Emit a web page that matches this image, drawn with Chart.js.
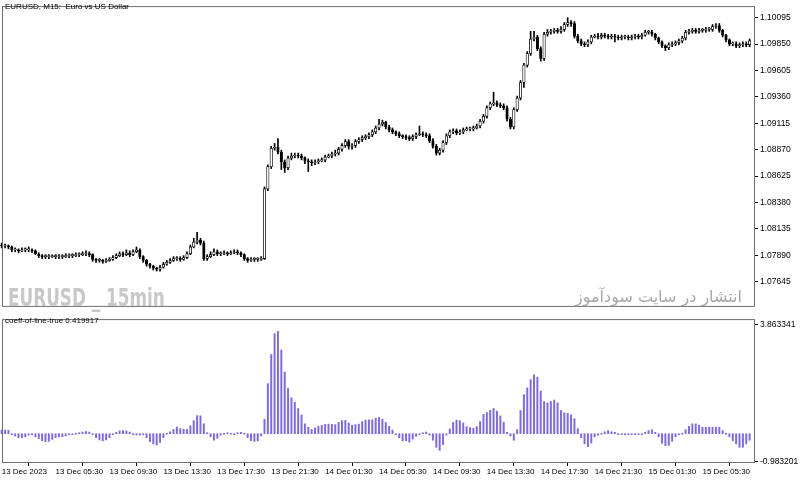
<!DOCTYPE html>
<html>
<head>
<meta charset="utf-8">
<script src="https://cdn.jsdelivr.net/npm/chart.js@4.4.1/dist/chart.umd.min.js"></script>
<style>
  body { margin: 0; background: #fff; }
  #wrap { position: relative; width: 800px; height: 481px; overflow: hidden; font-family: 'Liberation Sans', Arial, sans-serif; }
  canvas { position: absolute; left: 0; }
  .txt { position: absolute; white-space: nowrap; line-height: normal; }
</style>
</head>
<body>
<div id="wrap">
  <canvas id="priceChart" width="800" height="313" style="top:0"></canvas>
  <canvas id="coeffChart" width="800" height="168" style="top:313px"></canvas>
  <div class="txt" style="left:5px;top:2px;font-size:8px">EURUSD, M15:&nbsp; Euro vs US Dollar</div>
  <div class="txt" style="left:8px;top:284px;font:bold 24px 'Liberation Sans Narrow','DejaVu Sans Condensed',sans-serif;color:#c8c8c8;transform:scaleX(0.78);transform-origin:0 0">EURUSD _ 15min</div>
  <div class="txt" dir="rtl" style="right:58px;top:287px;font:16px 'DejaVu Sans',sans-serif;color:#a8a8a8">انتشار در سایت سودآموز</div>
  <div class="txt" style="left:5px;top:316px;font-size:8px">coeff-of-line-true 0.419917</div>
</div>
<script>
// EURUSD M15, 13 Dec 01:30 .. 15 Dec 09:00
const timeLabels = ['13 Dec 2023', '13 Dec 05:30', '13 Dec 09:30', '13 Dec 13:30', '13 Dec 17:30', '13 Dec 21:30',
    '14 Dec 01:30', '14 Dec 05:30', '14 Dec 09:30', '14 Dec 13:30', '14 Dec 17:30', '14 Dec 21:30',
    '15 Dec 01:30', '15 Dec 05:30'];
const barsPerLabel = 16;
const priceTicks = [1.07645, 1.07890, 1.08135, 1.08380, 1.08625, 1.08870, 1.09115, 1.09360, 1.09605, 1.09850, 1.10095];
const coeffTicks = [-0.983201, 3.863341];

const opens = [1.07986,1.07977,1.07977,1.07968,1.07941,1.07941,1.07932,1.07941,1.07941,1.07941,
    1.07932,1.07905,1.07887,1.07878,1.07878,1.07878,1.07878,1.07878,1.07878,1.07878,
    1.07887,1.07887,1.07887,1.07896,1.07896,1.07905,1.07905,1.07896,1.07852,1.07843,
    1.07843,1.07834,1.07843,1.07852,1.07869,1.07887,1.07905,1.07896,1.07914,1.07896,
    1.07923,1.07941,1.07878,1.07843,1.07807,1.07789,1.07771,1.07762,1.07780,1.07807,
    1.07825,1.07843,1.07860,1.07860,1.07852,1.07869,1.07905,1.07968,1.08013,1.08031,
    1.08004,1.07860,1.07878,1.07896,1.07923,1.07905,1.07905,1.07914,1.07905,1.07914,
    1.07923,1.07914,1.07896,1.07860,1.07843,1.07852,1.07852,1.07852,1.07860,1.08507,
    1.08713,1.08884,1.08892,1.08848,1.08758,1.08704,1.08794,1.08812,1.08821,1.08812,
    1.08794,1.08767,1.08758,1.08749,1.08758,1.08767,1.08776,1.08803,1.08812,1.08830,
    1.08839,1.08875,1.08910,1.08946,1.08901,1.08910,1.08946,1.08964,1.08982,1.08991,
    1.09009,1.09036,1.09072,1.09108,1.09126,1.09081,1.09054,1.09036,1.09018,1.09000,
    1.08991,1.08982,1.08973,1.08991,1.09009,1.09018,1.09009,1.09000,1.08955,1.08901,
    1.08839,1.08866,1.08937,1.09000,1.09036,1.09045,1.09027,1.09036,1.09054,1.09063,
    1.09063,1.09072,1.09090,1.09135,1.09180,1.09260,1.09296,1.09305,1.09287,1.09278,
    1.09260,1.09153,1.09081,1.09242,1.09350,1.09494,1.09655,1.09763,1.09898,1.09916,
    1.09808,1.09718,1.09942,1.09960,1.09969,1.09978,1.09969,1.09987,1.10032,1.10050,
    1.10041,1.09924,1.09880,1.09853,1.09844,1.09871,1.09916,1.09924,1.09916,1.09933,
    1.09924,1.09916,1.09924,1.09916,1.09907,1.09916,1.09916,1.09907,1.09916,1.09924,
    1.09916,1.09933,1.09960,1.09960,1.09942,1.09907,1.09871,1.09835,1.09817,1.09844,
    1.09853,1.09862,1.09880,1.09907,1.09960,1.09969,1.09978,1.09969,1.09978,1.09978,
    1.09987,1.09987,1.10014,1.10023,1.09978,1.09933,1.09889,1.09853,1.09853,1.09835,
    1.09844,1.09853,1.09844];

const highs = [1.08004,1.07995,1.07986,1.07977,1.07959,1.07950,1.07959,1.07959,1.07968,1.07950,
    1.07941,1.07914,1.07896,1.07896,1.07896,1.07896,1.07896,1.07896,1.07896,1.07905,
    1.07905,1.07905,1.07914,1.07914,1.07923,1.07932,1.07923,1.07905,1.07860,1.07860,
    1.07852,1.07860,1.07869,1.07887,1.07905,1.07923,1.07923,1.07941,1.07932,1.07941,
    1.07968,1.07950,1.07887,1.07852,1.07816,1.07798,1.07780,1.07798,1.07825,1.07843,
    1.07860,1.07878,1.07878,1.07878,1.07887,1.07923,1.07986,1.08049,1.08103,1.08049,
    1.08022,1.07896,1.07923,1.07950,1.07941,1.07923,1.07932,1.07923,1.07932,1.07941,
    1.07941,1.07923,1.07905,1.07869,1.07869,1.07869,1.07869,1.07878,1.08525,1.08731,
    1.08901,1.08928,1.08973,1.08866,1.08776,1.08812,1.08839,1.08839,1.08839,1.08830,
    1.08803,1.08785,1.08776,1.08776,1.08785,1.08794,1.08821,1.08830,1.08848,1.08866,
    1.08892,1.08928,1.08964,1.08964,1.08928,1.08964,1.08982,1.09000,1.09009,1.09027,
    1.09054,1.09090,1.09153,1.09144,1.09135,1.09099,1.09072,1.09045,1.09036,1.09009,
    1.09009,1.09000,1.09009,1.09027,1.09090,1.09036,1.09027,1.09018,1.08973,1.08919,
    1.08884,1.08955,1.09018,1.09054,1.09063,1.09063,1.09054,1.09072,1.09081,1.09081,
    1.09090,1.09108,1.09153,1.09198,1.09278,1.09314,1.09404,1.09323,1.09305,1.09296,
    1.09278,1.09171,1.09260,1.09368,1.09512,1.09673,1.09781,1.09969,1.09969,1.09933,
    1.09826,1.09960,1.09987,1.09987,1.09996,1.09996,1.10014,1.10050,1.10095,1.10068,
    1.10059,1.09942,1.09898,1.09871,1.09889,1.09933,1.09942,1.09951,1.09951,1.09951,
    1.09942,1.09942,1.09942,1.09933,1.09933,1.09933,1.09933,1.09933,1.09942,1.09942,
    1.09951,1.09978,1.09978,1.09978,1.09951,1.09916,1.09880,1.09844,1.09862,1.09871,
    1.09880,1.09898,1.09924,1.09978,1.09987,1.09996,1.09996,1.09996,1.09996,1.10005,
    1.10005,1.10032,1.10041,1.10041,1.09987,1.09942,1.09898,1.09871,1.09871,1.09862,
    1.09871,1.09871,1.09898];

const lows = [1.07959,1.07959,1.07950,1.07923,1.07923,1.07914,1.07923,1.07923,1.07923,1.07914,
    1.07896,1.07869,1.07860,1.07860,1.07860,1.07869,1.07860,1.07860,1.07860,1.07869,
    1.07869,1.07869,1.07878,1.07878,1.07887,1.07887,1.07878,1.07834,1.07825,1.07825,
    1.07816,1.07825,1.07834,1.07843,1.07860,1.07878,1.07878,1.07887,1.07878,1.07887,
    1.07914,1.07860,1.07825,1.07789,1.07771,1.07753,1.07744,1.07744,1.07771,1.07798,
    1.07816,1.07834,1.07843,1.07834,1.07843,1.07860,1.07896,1.07959,1.07995,1.07986,
    1.07843,1.07843,1.07869,1.07887,1.07887,1.07887,1.07896,1.07887,1.07896,1.07905,
    1.07896,1.07878,1.07843,1.07825,1.07834,1.07834,1.07834,1.07843,1.07852,1.08489,
    1.08695,1.08866,1.08830,1.08686,1.08659,1.08686,1.08776,1.08794,1.08794,1.08776,
    1.08740,1.08668,1.08722,1.08731,1.08740,1.08758,1.08758,1.08794,1.08794,1.08812,
    1.08821,1.08857,1.08892,1.08875,1.08875,1.08892,1.08928,1.08946,1.08964,1.08973,
    1.08991,1.09018,1.09054,1.09090,1.09063,1.09036,1.09018,1.09000,1.08982,1.08973,
    1.08964,1.08955,1.08955,1.08973,1.09000,1.08991,1.08982,1.08937,1.08884,1.08821,
    1.08821,1.08848,1.08919,1.08982,1.09018,1.09009,1.09009,1.09018,1.09045,1.09045,
    1.09045,1.09063,1.09072,1.09117,1.09162,1.09242,1.09278,1.09269,1.09260,1.09242,
    1.09135,1.09063,1.09063,1.09225,1.09332,1.09449,1.09637,1.09745,1.09880,1.09790,
    1.09691,1.09700,1.09924,1.09942,1.09951,1.09951,1.09951,1.09969,1.10014,1.10014,
    1.09907,1.09862,1.09835,1.09826,1.09826,1.09853,1.09907,1.09898,1.09898,1.09907,
    1.09898,1.09898,1.09871,1.09889,1.09889,1.09898,1.09889,1.09889,1.09898,1.09898,
    1.09898,1.09924,1.09942,1.09924,1.09889,1.09853,1.09817,1.09790,1.09799,1.09826,
    1.09835,1.09844,1.09862,1.09889,1.09942,1.09951,1.09951,1.09951,1.09960,1.09960,
    1.09969,1.09969,1.09996,1.09960,1.09916,1.09871,1.09835,1.09835,1.09817,1.09817,
    1.09826,1.09826,1.09826];

const closes = [1.07977,1.07977,1.07968,1.07941,1.07941,1.07932,1.07941,1.07941,1.07941,1.07932,
    1.07905,1.07887,1.07878,1.07878,1.07878,1.07878,1.07878,1.07878,1.07878,1.07887,
    1.07887,1.07887,1.07896,1.07896,1.07905,1.07905,1.07896,1.07852,1.07843,1.07843,
    1.07834,1.07843,1.07852,1.07869,1.07887,1.07905,1.07896,1.07914,1.07896,1.07923,
    1.07941,1.07878,1.07843,1.07807,1.07789,1.07771,1.07762,1.07780,1.07807,1.07825,
    1.07843,1.07860,1.07860,1.07852,1.07869,1.07905,1.07968,1.08013,1.08031,1.08004,
    1.07860,1.07878,1.07896,1.07923,1.07905,1.07905,1.07914,1.07905,1.07914,1.07923,
    1.07914,1.07896,1.07860,1.07843,1.07852,1.07852,1.07852,1.07860,1.08507,1.08713,
    1.08884,1.08892,1.08848,1.08758,1.08704,1.08794,1.08812,1.08821,1.08812,1.08794,
    1.08767,1.08758,1.08749,1.08758,1.08767,1.08776,1.08803,1.08812,1.08830,1.08839,
    1.08875,1.08910,1.08946,1.08901,1.08910,1.08946,1.08964,1.08982,1.08991,1.09009,
    1.09036,1.09072,1.09108,1.09126,1.09081,1.09054,1.09036,1.09018,1.09000,1.08991,
    1.08982,1.08973,1.08991,1.09009,1.09018,1.09009,1.09000,1.08955,1.08901,1.08839,
    1.08866,1.08937,1.09000,1.09036,1.09045,1.09027,1.09036,1.09054,1.09063,1.09063,
    1.09072,1.09090,1.09135,1.09180,1.09260,1.09296,1.09305,1.09287,1.09278,1.09260,
    1.09153,1.09081,1.09242,1.09350,1.09494,1.09655,1.09763,1.09898,1.09916,1.09808,
    1.09718,1.09942,1.09960,1.09969,1.09978,1.09969,1.09987,1.10032,1.10050,1.10041,
    1.09924,1.09880,1.09853,1.09844,1.09871,1.09916,1.09924,1.09916,1.09933,1.09924,
    1.09916,1.09924,1.09916,1.09907,1.09916,1.09916,1.09907,1.09916,1.09924,1.09916,
    1.09933,1.09960,1.09960,1.09942,1.09907,1.09871,1.09835,1.09817,1.09844,1.09853,
    1.09862,1.09880,1.09907,1.09960,1.09969,1.09978,1.09969,1.09978,1.09978,1.09987,
    1.09987,1.10014,1.10023,1.09978,1.09933,1.09889,1.09853,1.09853,1.09835,1.09844,
    1.09853,1.09844,1.09880];

// coeff-of-line-true indicator, one value per bar
const coeff = [0.13,0.13,0.12,-0.01,-0.08,-0.14,-0.14,-0.11,-0.05,-0.02,
    -0.11,-0.17,-0.25,-0.28,-0.27,-0.20,-0.14,-0.11,-0.11,-0.08,
    -0.02,-0.02,0.00,0.02,0.06,0.08,0.06,-0.02,-0.14,-0.22,
    -0.25,-0.22,-0.14,-0.02,0.05,0.10,0.11,0.10,0.06,-0.02,
    -0.05,-0.05,-0.02,-0.14,-0.28,-0.36,-0.40,-0.31,-0.14,0.00,
    0.07,0.15,0.24,0.18,0.16,0.15,0.28,0.46,0.64,0.63,
    0.35,0.03,-0.11,-0.23,-0.16,-0.05,0.00,0.02,0.00,-0.02,
    0.02,0.05,0.00,-0.14,-0.25,-0.27,-0.25,-0.08,0.51,1.77,
    2.80,3.54,3.62,2.96,2.18,1.60,1.27,1.11,0.89,0.66,
    0.35,0.23,0.15,0.20,0.26,0.30,0.33,0.34,0.33,0.32,
    0.40,0.46,0.47,0.38,0.30,0.32,0.34,0.43,0.48,0.49,
    0.49,0.55,0.57,0.51,0.40,0.26,0.13,-0.02,-0.14,-0.25,
    -0.25,-0.30,-0.19,-0.09,-0.02,0.02,0.06,-0.05,-0.23,-0.48,
    -0.59,-0.39,-0.05,0.17,0.40,0.48,0.46,0.38,0.25,0.22,
    0.19,0.25,0.43,0.68,0.75,0.83,0.89,0.80,0.63,0.41,
    0.05,-0.08,-0.23,0.14,0.82,1.38,1.62,1.91,2.08,2.00,
    1.51,1.14,1.09,1.14,1.19,1.09,0.82,0.74,0.72,0.67,
    0.53,0.18,-0.14,-0.36,-0.46,-0.33,-0.11,-0.05,0.00,0.07,
    0.11,0.07,0.05,-0.01,-0.01,-0.01,-0.01,-0.01,-0.01,-0.01,
    -0.01,0.05,0.11,0.14,0.05,-0.11,-0.34,-0.42,-0.41,-0.27,
    -0.11,-0.02,0.00,0.14,0.26,0.35,0.35,0.30,0.23,0.23,
    0.23,0.23,0.23,0.23,0.11,0.00,-0.11,-0.25,-0.36,-0.48,
    -0.48,-0.36,-0.23];

Chart.defaults.font.family = "'Liberation Sans', Arial, sans-serif";
Chart.defaults.font.size = 8;
Chart.defaults.color = '#000';
Chart.defaults.animation = false;
Chart.defaults.events = [];
Chart.defaults.plugins.legend.display = false;
Chart.defaults.plugins.tooltip.enabled = false;

// grey frame round the plot, like the terminal window
const frame = {
    id: 'frame',
    afterDraw(chart) {
        const ctx = chart.ctx, a = chart.chartArea;
        ctx.save();
        ctx.strokeStyle = '#6e6e6e';
        ctx.lineWidth = 1;
        ctx.strokeRect(2.5, a.top - 0.5, a.right - 2, a.bottom - a.top + 1);
        ctx.restore();
    }
};

const xRange = { min: -0.505, max: 223.3 };

const rightAxis = (min, max, ticks, digits) => ({
    position: 'right',
    min: min,
    max: max,
    afterBuildTicks: s => { s.ticks = ticks.map(v => ({ value: v })); },
    afterFit: s => { s.width = 46; },
    ticks: { callback: v => Number(v).toFixed(digits), padding: 2, autoSkip: false, font: { size: 8.5 } },
    grid: { drawOnChartArea: false, tickLength: 4, color: '#000' },
    border: { display: false }
});

new Chart(document.getElementById('priceChart'), {
    type: 'bar',
    data: {
        datasets: [{
            data: closes.map((c, i) => ({ x: i, y: [lows[i], highs[i]] })),
            backgroundColor: '#000',
            barThickness: 1,
            grouped: false,
            order: 2
        }, {
            data: closes.map((c, i) => ({ x: i, y: [opens[i], c] })),
            backgroundColor: ctx => closes[ctx.dataIndex] >= opens[ctx.dataIndex] ? '#fff' : '#000',
            borderColor: '#000',
            borderWidth: 0.8,
            borderSkipped: false,
            barThickness: 2.5,
            minBarLength: 1,
            grouped: false,
            order: 1
        }]
    },
    options: {
        responsive: false,
        layout: { padding: { left: 0, top: 2, right: 0, bottom: 2 } },
        scales: {
            x: { type: 'linear', display: false, min: xRange.min, max: xRange.max, offset: false },
            y: rightAxis(1.074207, 1.101937, priceTicks, 5)
        }
    },
    plugins: [frame]
});

new Chart(document.getElementById('coeffChart'), {
    type: 'bar',
    data: {
        datasets: [{
            data: coeff.map((v, i) => ({ x: i, y: v })),
            backgroundColor: '#7b68ee',
            barThickness: 1.3,
            minBarLength: 1
        }]
    },
    options: {
        responsive: false,
        layout: { padding: { left: 0, top: 2, right: 0, bottom: 0 } },
        scales: {
            x: {
                type: 'linear',
                min: xRange.min,
                max: xRange.max,
                offset: false,
                afterBuildTicks: s => { s.ticks = timeLabels.map((t, k) => ({ value: k * barsPerLabel })); },
                afterFit: s => { s.height = 19; },
                ticks: { callback: (v, k) => timeLabels[k], align: 'start', padding: 1, maxRotation: 0, autoSkip: false },
                grid: { drawOnChartArea: false, tickLength: 4, color: '#000' },
                border: { display: false }
            },
            y: rightAxis(-1.0, 4.017, coeffTicks, 6)
        }
    },
    plugins: [frame]
});
</script>
</body>
</html>
